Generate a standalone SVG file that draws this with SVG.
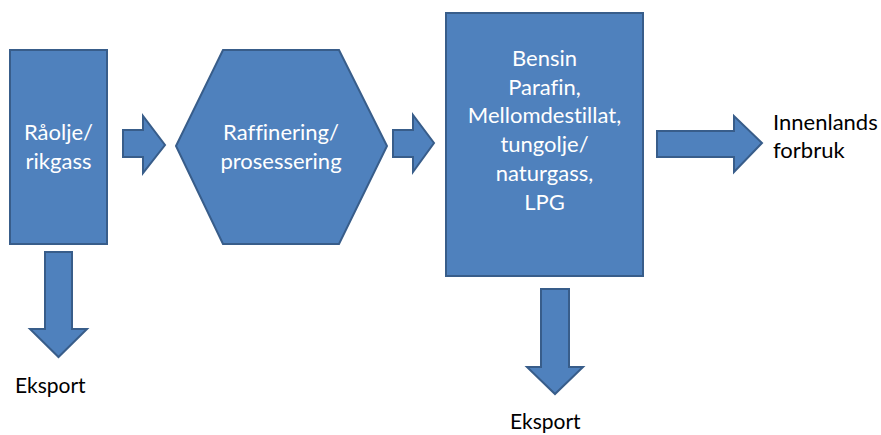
<svg xmlns="http://www.w3.org/2000/svg" width="881" height="435" viewBox="0 0 881 435">
<style>
.shape{fill:#4F81BD;stroke:#385D8A;stroke-width:2;stroke-linejoin:miter}
.in{font-family:Lato,"Open Sans","DejaVu Sans",sans-serif;font-size:22px;fill:#FFFFFF;text-anchor:middle;font-variant-ligatures:none}
.out{font-family:Lato,"Open Sans","DejaVu Sans",sans-serif;font-size:22px;fill:#000000;font-variant-ligatures:none}
.eks{font-size:21px}
</style>
<rect width="881" height="435" fill="#FFFFFF"/>
<g id="connectors">
<polygon class="shape" points="123,130 143,130 143,116 165,145 143,173 143,157 123,157"/>
<polygon class="shape" points="393,130 413,130 413,115 434,143 413,172 413,157 393,157"/>
<polygon class="shape" points="657,131 734,131 734,116 762,143 734,172 734,157 657,157"/>
<polygon class="shape" points="45,252 72,252 72,329 87,329 58.5,357 30,329 45,329"/>
<polygon class="shape" points="541,289 569,289 569,367 583,367 555,394 527,367 541,367"/>
</g>
<g id="raaolje">
<rect class="shape" x="10" y="50" width="97" height="194"/>
<text class="in" x="58.5" y="140">Råolje/</text>
<text class="in" x="58.5" y="169">rikgass</text>
</g>
<g id="raffinering">
<polygon class="shape" points="176,146 223,50 339,50 387,146 339,244 223,244"/>
<text class="in" x="281" y="140">Raffinering/</text>
<text class="in" x="281" y="169">prosessering</text>
</g>
<g id="produkter">
<rect class="shape" x="446" y="13" width="197" height="263"/>
<text class="in" x="544.5" y="66">Bensin</text>
<text class="in" x="544.5" y="95">Parafin,</text>
<text class="in" x="544.5" y="123">Mellomdestillat,</text>
<text class="in" x="544.5" y="152">tungolje/</text>
<text class="in" x="544.5" y="181">naturgass,</text>
<text class="in" x="544.5" y="210">LPG</text>
</g>
<g id="innenlands">
<text class="out" x="773" y="130">Innenlands</text>
<text class="out" x="773" y="158">forbruk</text>
</g>
<g id="eksport1">
<text class="out eks" x="15" y="393">Eksport</text>
</g>
<g id="eksport2">
<text class="out eks" x="510" y="429">Eksport</text>
</g>
</svg>
